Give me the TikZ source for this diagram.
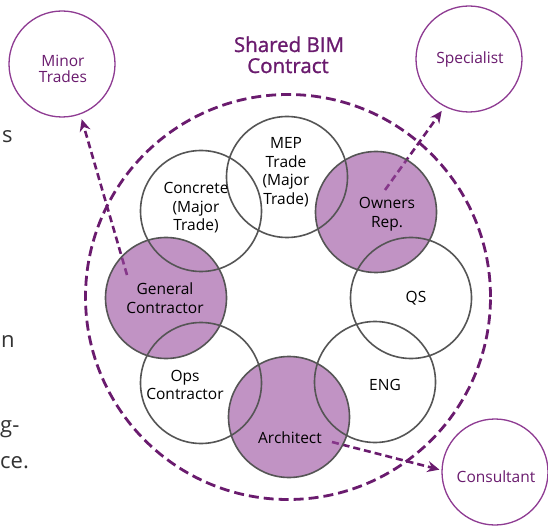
\documentclass[tikz,border=0pt]{standalone}
\usepackage{fontspec}
\setmainfont{Open Sans}
\newfontfamily\titlefont[FakeBold=1.2]{Open Sans}
\usetikzlibrary{arrows.meta}
\definecolor{dpurp}{RGB}{106,27,110}
\definecolor{opurp}{RGB}{142,59,146}
\definecolor{fpurp}{RGB}{153,75,157}
\definecolor{ringc}{RGB}{85,85,85}
\definecolor{fragc}{RGB}{51,51,51}
\tikzset{
  smallc/.style={circle, minimum size=121pt, inner sep=0pt, draw=ringc, line width=1.6pt},
  hotc/.style={smallc, fill=fpurp, fill opacity=0.6},
  lbl/.style={align=center, font=\fontsize{15.5}{18.5}\selectfont, text=black, inner sep=0pt},
  outerc/.style={circle, draw=opurp, line width=1.3pt, minimum size=106pt, inner sep=0pt},
  olbl/.style={align=center, text=dpurp, inner sep=0pt, font=\fontsize{15.5}{16.5}\selectfont},
  dasharrow/.style={draw=dpurp, line width=2.6pt, dash pattern=on 7pt off 4pt,
     -{Stealth[length=12pt,width=11pt]}},
  frag/.style={anchor=base west, inner sep=0pt, text=fragc, font=\fontsize{22}{26}\selectfont},
  ttl/.style={anchor=base, inner sep=0pt, text=dpurp, font=\titlefont\fontsize{20.5}{22}\selectfont}
}
\begin{document}
\begin{tikzpicture}[x=1pt,y=-1pt]
\useasboundingbox (0,0) rectangle (548,526);
\clip (0,0) rectangle (548,526);
\fill[white] (0,0) rectangle (548,526);

% left text fragments
\node[frag] (f1) at (2,143) {s};
\node[frag] (f2) at (1,347) {n};
\node[frag] (f3) at (0,432) {g-};
\node[frag] (f4) at (0,468) {ce.};

% title
\node[ttl] (t1) at (289,52) {Shared BIM};
\node[ttl] (t2) at (288,73) {Contract};

% outer circles
\node[outerc] (mt) at (62,64) {};
\node[outerc] (sp) at (469,59) {};
\node[outerc] (cons) at (495,472) {};
\node[olbl] (lmt) at (63,69) {Minor\\Trades};
\node[olbl] (lsp) at (470,59) {Specialist};
\node[olbl] (lcons) at (496,477) {Consultant};

% big dashed circle
\node[circle, minimum size=405pt, inner sep=0pt, draw=dpurp, line width=2.8pt,
      dash pattern=on 10pt off 5pt] (big) at (288,297) {};

% arrow starts
\coordinate (ga) at (127,275);
\coordinate (oa) at (385,190);
\coordinate (aa) at (332,442);

\draw[dasharrow, shorten >=5pt] (ga) -- (mt.290);
\draw[dasharrow, shorten >=5pt] (oa) -- (sp.243);
\draw[dasharrow, shorten >=2pt] (aa) -- (cons.178);

% highlighted circles
\node[hotc] (own) at (376,212) {};
\node[hotc] (gc) at (166,298) {};
\node[hotc] (arch) at (289,417) {};

% plain circles
\node[smallc] (mep) at (287,177) {};
\node[smallc] (conc) at (201,211) {};
\node[smallc] (qs) at (411,298) {};
\node[smallc] (ops) at (201,383) {};
\node[smallc] (eng) at (375,382) {};

% labels
\node[lbl] (lmep) at (286,172) {MEP\\Trade\\(Major\\Trade)};
\node[lbl] (lconc) at (196,208) {Concrete\\(Major\\Trade)};
\node[lbl] (lown) at (387,214) {Owners\\Rep.};
\node[lbl] (lgc) at (165,298) {General\\Contractor};
\node[lbl] (lqs) at (416,298) {QS};
\node[lbl] (lops) at (185,385) {Ops\\Contractor};
\node[lbl] (leng) at (385,385) {ENG};
\node[lbl] (larch) at (290,438) {Architect};
\end{tikzpicture}
\end{document}
